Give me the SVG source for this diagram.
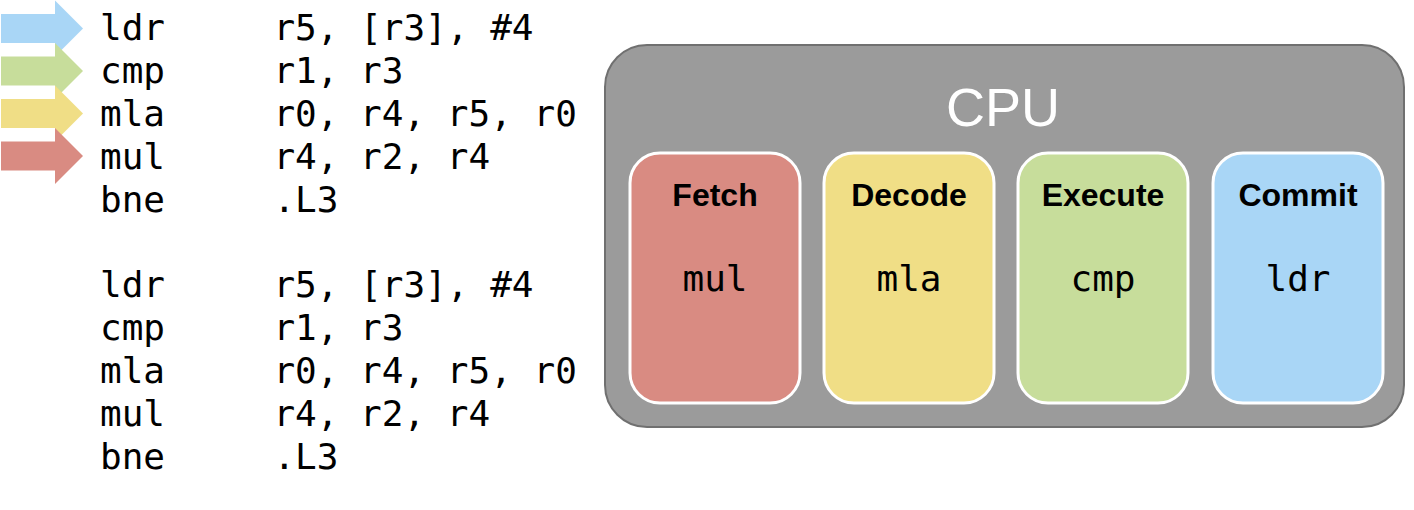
<svg xmlns="http://www.w3.org/2000/svg" width="1414" height="510" viewBox="0 0 1414 510">
<style>
.code{font-family:"DejaVu Sans Mono","Liberation Mono",monospace;font-size:36px;fill:#000}
.ins{font-family:"DejaVu Sans Mono","Liberation Mono",monospace;font-size:36px;fill:#000;text-anchor:middle}
.stage{stroke:#fff;stroke-width:3}
.title{font-family:"Liberation Sans",Arial,sans-serif;font-size:32px;font-weight:bold;fill:#000;text-anchor:middle}
.cpu{font-family:"Liberation Sans",Arial,sans-serif;font-size:54px;fill:#fff;text-anchor:middle}
</style>
<defs>
<path id="arrow" d="M1,-14.5 H55 V-28 L83,0 L55,28 V14.5 H1 Z"/>
</defs>
<rect width="1414" height="510" fill="#fff"/>
<g id="arrows">
<use href="#arrow" transform="translate(0,28.5)" fill="#A9D6F6"/>
<use href="#arrow" transform="translate(0,71)" fill="#C7DD9B"/>
<use href="#arrow" transform="translate(0,113.5)" fill="#F0DE86"/>
<use href="#arrow" transform="translate(0,156)" fill="#D98B82"/>
</g>
<g id="code">
<text class="code" x="100" y="40" xml:space="preserve">ldr     r5, [r3], #4</text>
<text class="code" x="100" y="83" xml:space="preserve">cmp     r1, r3</text>
<text class="code" x="100" y="126" xml:space="preserve">mla     r0, r4, r5, r0</text>
<text class="code" x="100" y="169" xml:space="preserve">mul     r4, r2, r4</text>
<text class="code" x="100" y="212" xml:space="preserve">bne     .L3</text>
<text class="code" x="100" y="297" xml:space="preserve">ldr     r5, [r3], #4</text>
<text class="code" x="100" y="340" xml:space="preserve">cmp     r1, r3</text>
<text class="code" x="100" y="383" xml:space="preserve">mla     r0, r4, r5, r0</text>
<text class="code" x="100" y="426" xml:space="preserve">mul     r4, r2, r4</text>
<text class="code" x="100" y="469" xml:space="preserve">bne     .L3</text>
</g>
<g id="cpu">
<rect x="605" y="45" width="799" height="382" rx="42" fill="#9B9B9B" stroke="#707070" stroke-width="2"/>
<text class="cpu" x="1003" y="126">CPU</text>
</g>
<g id="fetch">
<rect class="stage" x="630" y="153" width="170" height="250" rx="30" fill="#D98B82"/>
<text class="title" x="715" y="206">Fetch</text>
<text class="ins" x="715" y="291">mul</text>
</g>
<g id="decode">
<rect class="stage" x="824" y="153" width="170" height="250" rx="30" fill="#F0DE86"/>
<text class="title" x="909" y="206">Decode</text>
<text class="ins" x="909" y="291">mla</text>
</g>
<g id="execute">
<rect class="stage" x="1018" y="153" width="170" height="250" rx="30" fill="#C7DD9B"/>
<text class="title" x="1103" y="206">Execute</text>
<text class="ins" x="1103" y="291">cmp</text>
</g>
<g id="commit">
<rect class="stage" x="1213" y="153" width="170" height="250" rx="30" fill="#A9D6F6"/>
<text class="title" x="1298" y="206">Commit</text>
<text class="ins" x="1298" y="291">ldr</text>
</g>
<g id="connectors"></g>
</svg>
